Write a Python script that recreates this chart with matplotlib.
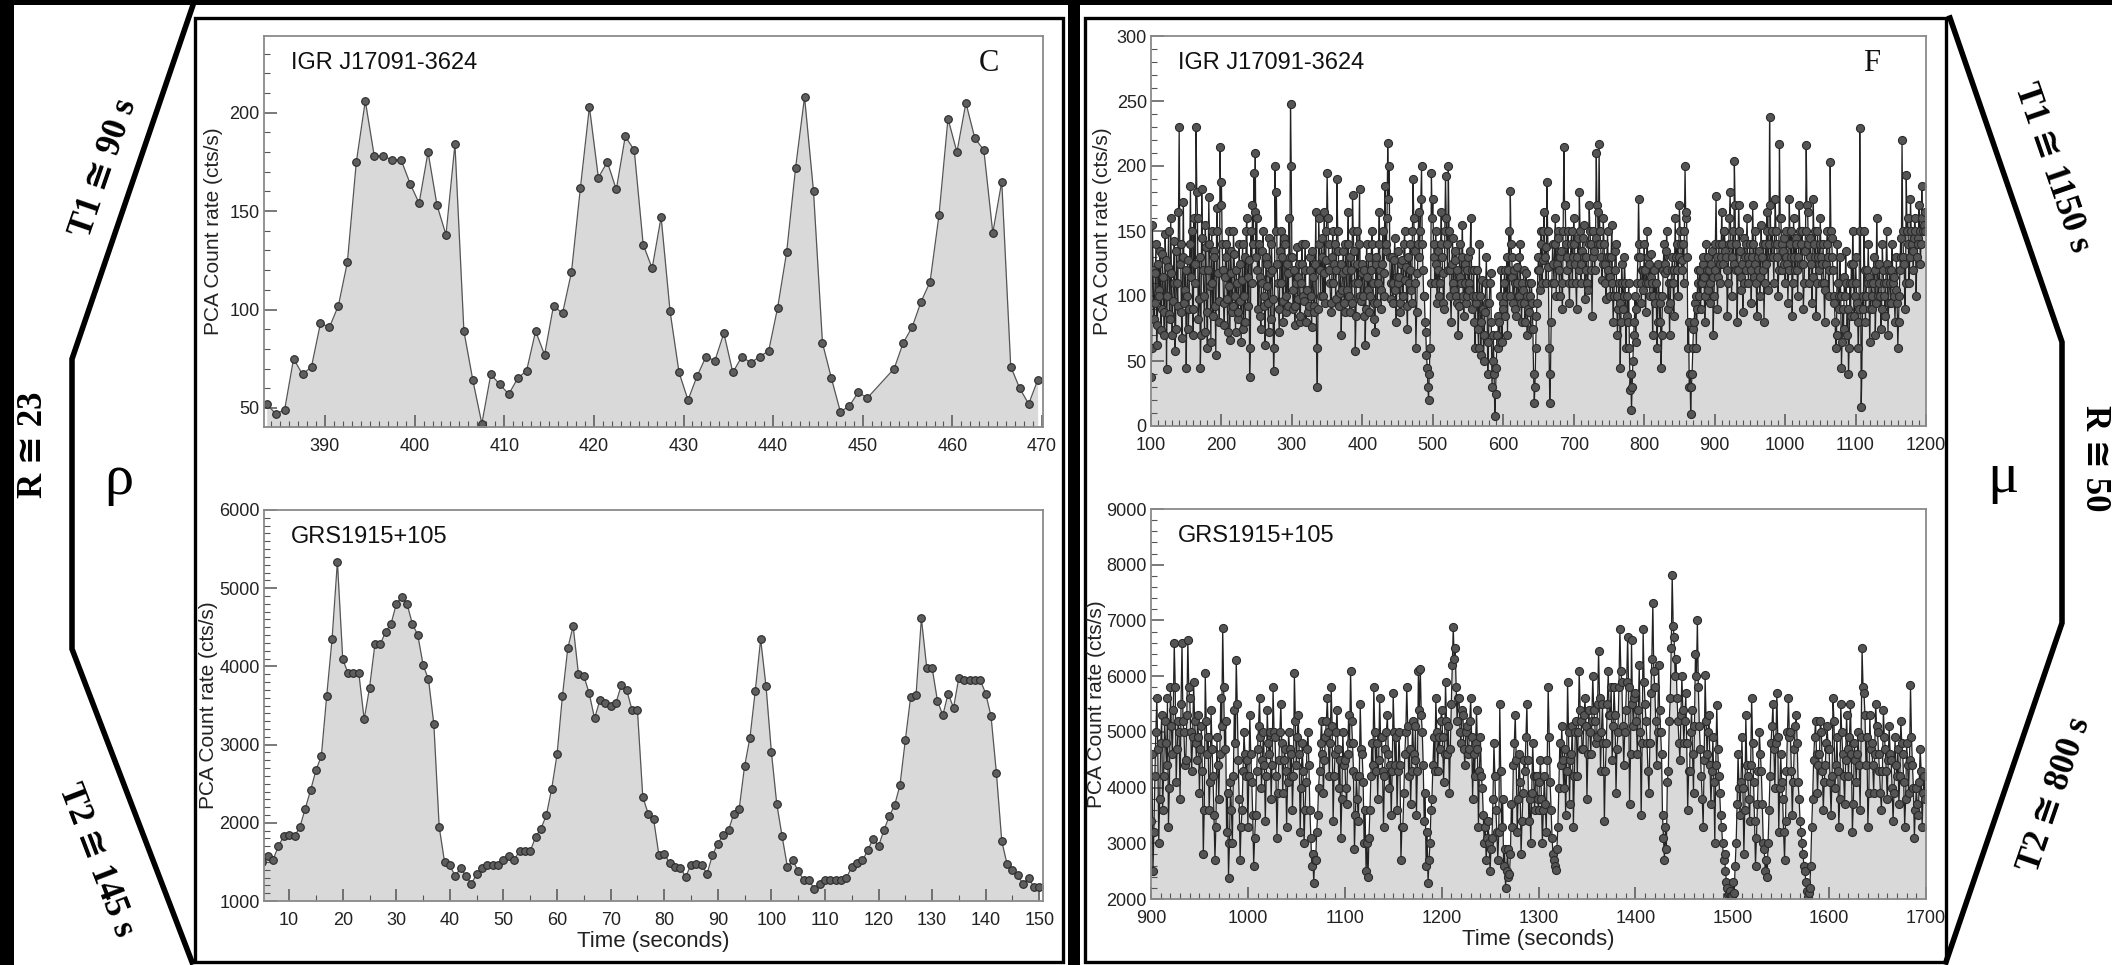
import numpy as np
import matplotlib.pyplot as plt
from matplotlib.ticker import MultipleLocator

W, H = 2112, 965

# ---- rho class (panel C) ----
t_igr_c = np.r_[np.arange(383.5, 451), np.arange(453.5, 470)]
igr_c = [52, 47, 49, 75, 67, 71, 93, 91, 102, 124,
         175, 206, 178, 178, 176, 176, 164, 154, 180, 153,
         138, 184, 89, 64, 42, 67, 62, 57, 65, 69,
         89, 77, 102, 98, 119, 162, 203, 167, 175, 161,
         188, 181, 133, 121, 147, 99, 68, 54, 66, 76,
         74, 88, 68, 76, 73, 76, 79, 101, 129, 172,
         208, 160, 83, 65, 48, 51, 58, 55,
         70, 83, 91, 104, 114, 148, 197, 180, 205, 187,
         181, 139, 165, 71, 60, 52, 64]

t_grs_c = np.arange(5, 151)
grs_c = [1499, 1572, 1529, 1704, 1828, 1841, 1828, 1947, 2182, 2417,
         2673, 2852, 3620, 4346, 5340, 4090, 3911, 3911, 3911, 3322,
         3727, 4282, 4282, 4444, 4542, 4798, 4892, 4798, 4542, 4402,
         4017, 3834, 3262, 1947, 1499, 1457, 1316, 1427, 1316, 1222,
         1341, 1423, 1465, 1465, 1465, 1521, 1572, 1529, 1640, 1640,
         1640, 1819, 1926, 2097, 2438, 2874, 3620, 4231, 4517, 3898,
         3877, 3655, 3335, 3569, 3527, 3497, 3535, 3761, 3697, 3441,
         3441, 2332, 2118, 2054, 1593, 1606, 1487, 1435, 1427, 1307,
         1465, 1478, 1457, 1350, 1585, 1734, 1841, 1905, 2118, 2182,
         2724, 3087, 3689, 4346,
         3747, 2907, 2246, 1828, 1435, 1520, 1384, 1273, 1264, 1158,
         1213, 1264, 1264, 1264, 1264, 1294, 1435, 1486, 1520, 1648,
         1798, 1700, 1904, 2084, 2224, 2480, 3056, 3611, 3632, 4613,
         3982, 3982, 3560, 3376, 3653, 3470, 3858, 3824, 3824, 3824,
         3824, 3653, 3363, 2638, 1768, 1469, 1401, 1328, 1213, 1299,
         1179, 1179]

# ---- mu class (panel F), 1 s bins: even and odd seconds ----
igr_f_even = [  # t = 100, 102, ... 1198
    38, 155, 82, 118, 62, 125, 100, 74, 132, 88, 148, 44, 122, 86, 160, 70, 110, 58, 135, 92, 230, 140, 68, 172, 105,
    45, 128, 90, 185, 150, 70, 110, 230, 160, 98, 45, 182, 120, 72, 138, 60, 176, 108, 150, 85, 130, 55, 168, 96, 215,
    188, 120, 78, 140, 98, 150, 66, 118, 92, 132, 72, 110, 88, 125, 65, 140, 100, 80, 160, 115, 38, 150, 170, 195, 210,
    160, 90, 115, 75, 135, 100, 62, 125, 95, 145, 82, 120, 42, 200, 180, 110, 72, 150, 130, 96, 140, 88, 118, 160, 248,
    130, 90, 78, 110, 98, 125, 85, 140, 100, 120, 80, 105, 92, 130, 76, 115, 88, 165, 30, 160, 120, 145, 100, 165, 128,
    195, 140, 110, 88, 150, 125, 98, 190, 135, 102, 70, 118, 95, 140, 105, 165, 88, 120, 178, 135, 58, 150, 110, 182, 96,
    125, 85, 62, 140, 105, 88, 120, 150, 95, 72, 130, 110, 165, 90, 125, 100, 185, 140, 218, 200, 98, 130, 110, 145, 80,
    135, 115, 88, 128, 100, 150, 122, 75, 110, 140, 95, 190, 135, 60, 118, 165, 150, 200, 120, 100, 72, 45, 20, 60, 195,
    175, 130, 150, 95, 135, 110, 165, 118, 90, 192, 140, 200, 120, 80, 145, 105, 128, 95, 70, 140, 110, 155, 85, 125, 100,
    130, 105, 160, 90, 120, 60, 100, 75, 140, 55, 112, 50, 88, 130, 40, 95, 118, 30, 70, 8, 45, 60, 80, 100, 65,
    90, 120, 100, 70, 150, 181, 130, 95, 110, 85, 122, 100, 140, 80, 105, 95, 118, 70, 88, 100, 110, 75, 18, 60, 95,
    130, 105, 150, 128, 165, 138, 188, 122, 18, 80, 140, 110, 160, 125, 145, 100, 135, 90, 215, 170, 120, 150, 95, 140, 110,
    160, 125, 90, 145, 180, 110, 135, 155, 98, 130, 105, 170, 140, 85, 150, 120, 210, 165, 217, 140, 112, 160, 125, 98, 150,
    130, 100, 155, 80, 120, 140, 70, 110, 45, 125, 90, 130, 60, 100, 110, 28, 12, 50, 80, 65, 110, 175, 130, 95, 120,
    140, 88, 150, 110, 100, 132, 70, 120, 95, 60, 125, 80, 45, 100, 140, 118, 150, 90, 70, 110, 130, 85, 160, 120, 100,
    170, 140, 128, 110, 200, 165, 60, 30, 9, 40, 75, 95, 60, 120, 100, 90, 110, 130, 80, 140, 105, 120, 95, 135, 70,
    120, 177, 90, 140, 110, 165, 125, 150, 130, 85, 140, 180, 100, 150, 204, 120, 80, 170, 135, 105, 88, 145, 120, 160, 110,
    140, 95, 170, 115, 150, 85, 130, 100, 155, 120, 80, 140, 165, 105, 238, 130, 150, 110, 175, 140, 100, 217, 160, 120, 145,
    110, 150, 95, 175, 130, 85, 160, 120, 140, 100, 170, 125, 150, 90, 135, 216, 165, 110, 145, 95, 175, 130, 85, 150, 120,
    160, 110, 140, 80, 125, 150, 100, 203, 145, 120, 95, 60, 140, 100, 130, 45, 90, 115, 135, 70, 40, 110, 125, 150, 85,
    130, 95, 60, 229, 15, 100, 150, 80, 120, 140, 65, 110, 90, 130, 70, 160, 100, 125, 75, 140, 110, 85, 150, 70, 120,
    95, 140, 115, 80, 130, 60, 100, 145, 220, 130, 90, 193, 160, 110, 175, 140, 120, 160, 100, 145, 170, 125, 185, 150, 165]
igr_f_odd = [  # t = 101, 103, ... 1199
    60, 120, 95, 140, 78, 105, 135, 90, 115, 70, 128, 100, 150, 82, 118, 96, 142, 75, 110, 165, 125, 88, 130, 95, 120,
    100, 75, 140, 115, 90, 160, 125, 180, 82, 130, 70, 145, 100, 155, 88, 120, 140, 65, 110, 135, 92, 150, 118, 80, 170,
    140, 95, 115, 130, 72, 108, 135, 88, 150, 100, 120, 82, 140, 96, 112, 75, 130, 150, 92, 128, 60, 110, 140, 165, 130,
    120, 140, 85, 110, 150, 92, 130, 108, 72, 118, 140, 98, 60, 150, 125, 90, 135, 110, 80, 145, 100, 125, 92, 130, 200,
    105, 120, 92, 138, 115, 80, 110, 125, 96, 140, 105, 88, 120, 100, 135, 92, 125, 60, 90, 140, 100, 130, 118, 95, 150,
    160, 120, 95, 130, 110, 140, 120, 150, 92, 125, 105, 135, 88, 120, 140, 100, 130, 95, 150, 110, 85, 125, 140, 100, 118,
    100, 120, 90, 115, 130, 100, 140, 110, 82, 125, 95, 140, 120, 105, 150, 118, 135, 160, 175, 130, 110, 95, 128, 105, 115,
    110, 95, 125, 100, 140, 112, 92, 130, 120, 105, 150, 160, 110, 88, 140, 130, 175, 140, 100, 80, 55, 30, 40, 110, 160,
    140, 110, 125, 120, 100, 140, 130, 95, 150, 160, 120, 150, 100, 125, 110, 135, 100, 120, 92, 115, 130, 100, 110, 95, 120,
    110, 135, 120, 100, 80, 95, 120, 60, 100, 80, 90, 70, 110, 95, 65, 110, 80, 50, 40, 25, 70, 85, 65, 120, 95,
    110, 85, 130, 120, 100, 140, 115, 120, 90, 110, 100, 130, 95, 110, 120, 80, 100, 90, 110, 75, 95, 40, 30, 85, 120,
    120, 140, 110, 150, 130, 110, 150, 60, 40, 110, 125, 140, 100, 150, 120, 130, 110, 150, 170, 140, 130, 110, 125, 150, 130,
    140, 110, 130, 120, 150, 125, 145, 130, 120, 110, 140, 150, 120, 130, 135, 145, 170, 140, 150, 130, 125, 140, 110, 130, 120,
    115, 130, 110, 100, 135, 100, 90, 95, 80, 110, 100, 110, 85, 80, 60, 40, 30, 70, 100, 90, 130, 140, 110, 120, 105,
    120, 110, 130, 125, 115, 110, 100, 95, 110, 80, 100, 95, 70, 120, 125, 135, 120, 110, 95, 120, 110, 120, 130, 140, 130,
    150, 120, 140, 150, 160, 130, 80, 40, 30, 60, 80, 100, 90, 110, 120, 110, 125, 115, 100, 120, 130, 110, 125, 115, 100,
    140, 130, 115, 125, 130, 140, 150, 135, 120, 110, 160, 140, 130, 125, 170, 140, 120, 150, 115, 125, 110, 130, 140, 130, 125,
    120, 130, 140, 125, 110, 120, 135, 115, 130, 140, 110, 125, 150, 140, 170, 150, 130, 140, 150, 130, 120, 160, 140, 135, 125,
    130, 125, 120, 140, 150, 110, 130, 145, 120, 130, 150, 140, 125, 110, 150, 170, 140, 130, 125, 115, 140, 150, 110, 130, 140,
    130, 125, 110, 105, 140, 130, 120, 150, 130, 100, 80, 70, 110, 90, 100, 65, 75, 100, 110, 90, 60, 85, 110, 125, 100,
    110, 80, 90, 150, 40, 90, 120, 100, 110, 115, 90, 100, 110, 120, 95, 125, 110, 100, 90, 120, 100, 110, 125, 95, 110,
    120, 110, 100, 105, 95, 80, 120, 130, 150, 125, 110, 150, 140, 130, 150, 135, 145, 150, 130, 140, 150, 140, 160, 155, 150]

grs_f_even = [  # t = 900, 902, ... 1698
    3400, 2500, 4200, 5600, 3000, 4800, 3600, 5200, 4400, 3300, 5800, 4600, 6600, 4100, 5200, 3800, 6600, 5000, 4500, 6650, 5600, 4300, 5900, 4800, 5300,
    3900, 5100, 2800, 6050, 4600, 3600, 5400, 4200, 2700, 4900, 3800, 5600, 6865, 4700, 3200, 2380, 4100, 3000, 5400, 6290, 4500, 2700, 3600, 5000, 4200,
    3300, 5300, 4100, 2600, 3500, 4700, 5600, 4000, 5000, 3400, 5400, 4600, 3800, 5800, 4900, 3100, 4500, 5500, 3900, 4700, 3300, 5000, 4200, 3600, 6050,
    4400, 5300, 3200, 4800, 3000, 4100, 5000, 3600, 2600, 2290, 2700, 3500, 4300, 5200, 3900, 4900, 5600, 4200, 5800, 3400, 4600, 5400, 4000, 3100, 5000,
    4500, 3700, 5300, 6100, 4800, 2900, 4200, 3400, 5500, 4600, 3000, 2500, 2400, 3600, 4800, 5800, 4300, 3800, 5600, 4900, 3300, 4700, 5300, 4000, 3500,
    5700, 4400, 3600, 5000, 2700, 3300, 4600, 5800, 4200, 3700, 5200, 4500, 3500, 6100, 6120, 5000, 3400, 2600, 2290, 3000, 3800, 4900, 5600, 4300, 4700,
    5400, 4100, 5900, 4600, 3900, 5500, 6880, 6500, 5200, 5600, 4800, 5300, 4400, 5100, 4700, 5600, 3800, 4200, 5400, 3300, 4900, 4000, 3000, 2700, 3400,
    2500, 3100, 4800, 3600, 2700, 5500, 3300, 2600, 2200, 2900, 2450, 3700, 4400, 5300, 3200, 4600, 2800, 3900, 4300, 5500, 3400, 3000, 4800, 3600, 4200,
    3600, 4500, 3000, 4200, 3200, 5800, 4100, 3100, 2700, 2520, 3300, 4800, 5100, 4000, 3500, 5900, 3700, 4600, 3300, 5000, 4200, 6100, 5200, 4700, 5600,
    3800, 5400, 4600, 6000, 5200, 4900, 6450, 4300, 5500, 3400, 4800, 6100, 5300, 4500, 5800, 3900, 5000, 6850, 5900, 4400, 5400, 6700, 3700, 6640, 5100,
    5700, 4600, 6200, 3500, 6850, 5500, 4800, 3900, 5700, 7314, 5800, 4400, 6200, 5000, 3500, 2700, 2900, 4300, 5600, 7816, 6700, 6300, 5200, 4500, 6000,
    4800, 5700, 3600, 4300, 5400, 3900, 6400, 7000, 5100, 4200, 3300, 6020, 4600, 5300, 3700, 4900, 3000, 5480, 4200, 3500, 3000, 2800, 2300, 2070, 2150,
    2050, 2100, 3000, 4600, 3500, 4900, 2800, 5300, 4200, 3400, 5600, 4100, 2600, 3700, 5000, 4300, 3000, 2500, 2400, 3600, 4800, 5500, 4000, 5700, 3200,
    4600, 3800, 2700, 4300, 5600, 5000, 3500, 4700, 5300, 4100, 3400, 3000, 2600, 2300, 2040, 2200, 3300, 4500, 5200, 3900, 4600, 5000, 3600, 4400, 5100,
    4700, 3500, 5600, 4000, 4900, 3300, 5500, 4600, 3700, 5300, 4200, 5500, 3200, 4800, 4100, 5000, 3600, 6500, 5700, 4400, 3300, 5300, 4800, 3900, 5500,
    5000, 4300, 3600, 5400, 4700, 3800, 5100, 4500, 3400, 4900, 4200, 3700, 5200, 4600, 3300, 4800, 3900, 5840, 4400, 3100, 4000, 3500, 4700, 3300, 4200]
grs_f_odd = [  # t = 901, 903, ... 1699
    4600, 3200, 5000, 4700, 3800, 5300, 4200, 4800, 5600, 4000, 5100, 5400, 5800, 4700, 5000, 5500, 5200, 4400, 5300, 5800, 5000, 4900, 5200, 4500, 4900,
    4700, 4300, 3600, 5200, 4900, 4100, 4700, 3500, 3300, 4400, 4600, 5100, 5800, 5200, 3900, 3000, 3600, 4200, 4800, 5500, 3800, 3300, 4300, 4600, 4500,
    4200, 4600, 3500, 3100, 4300, 5100, 4900, 4500, 4400, 4200, 4800, 5000, 4400, 5000, 4200, 3900, 5000, 4800, 4500, 4300, 4100, 4700, 4600, 4200, 5200,
    4900, 4600, 4000, 4300, 3600, 4700, 4400, 3100, 2800, 2700, 3200, 4000, 4800, 4600, 4500, 5200, 5000, 4800, 5100, 4200, 5000, 4700, 4500, 3800, 4400,
    4000, 4600, 4800, 5200, 4300, 3500, 3800, 4200, 4700, 4100, 3600, 3000, 3100, 4200, 4400, 5000, 4800, 4500, 4900, 4300, 4200, 5000, 4600, 4400, 4300,
    5000, 4900, 4300, 4400, 3300, 3900, 5000, 5100, 4700, 4300, 4600, 5100, 4300, 5400, 5300, 4400, 3900, 3200, 2700, 3600, 4400, 4300, 5000, 4900, 5200,
    4900, 4600, 5200, 5100, 4700, 6200, 6300, 5800, 5600, 5000, 5400, 4700, 5000, 4600, 5200, 4900, 4600, 4800, 4700, 4300, 4200, 3500, 3300, 3100, 3000,
    2900, 3800, 4200, 3200, 3200, 4300, 3800, 2900, 2500, 2400, 2800, 3300, 4800, 4500, 3800, 4100, 3400, 4500, 4900, 4500, 3800, 3900, 4200, 4200, 3800,
    4100, 3800, 3600, 3700, 4500, 4900, 3600, 2800, 2600, 2900, 4000, 4400, 4500, 4700, 4300, 5000, 4500, 5100, 4200, 5200, 5000, 5400, 4700, 5300, 5100,
    4600, 5000, 5200, 5400, 4800, 5500, 5600, 5000, 4800, 4300, 5500, 5300, 5800, 5100, 5300, 4700, 5800, 6100, 5100, 5000, 5900, 5800, 4600, 5500, 5600,
    5200, 5400, 5000, 4800, 5900, 5200, 4300, 4800, 6300, 6100, 5200, 5000, 5400, 4600, 3100, 3300, 4100, 5200, 6500, 6900, 6000, 5600, 4800, 5300, 5400,
    5200, 4800, 4300, 5000, 4600, 5100, 6000, 5800, 4700, 3800, 4500, 5200, 5000, 4400, 4300, 4100, 4400, 4700, 3900, 3300, 2700, 2500, 2200, 2100, 2050,
    2300, 2600, 3700, 4000, 4100, 4000, 3600, 4400, 3800, 4400, 4800, 3400, 3100, 4300, 4600, 3700, 2900, 2700, 3000, 4200, 5100, 4700, 4800, 4900, 4000,
    4100, 3200, 3400, 5000, 4900, 4300, 4100, 5100, 4800, 3800, 3200, 2800, 2500, 2150, 2100, 2600, 3800, 4900, 4600, 4400, 5200, 4300, 4100, 4800, 4700,
    4100, 4200, 5200, 4400, 4300, 3800, 5000, 4200, 4500, 4700, 4900, 4600, 3700, 4500, 4600, 4400, 4900, 5800, 5300, 4900, 3900, 4700, 4400, 4600, 5100,
    4600, 3900, 4300, 4900, 4300, 4500, 4600, 4000, 3900, 4400, 4700, 4200, 4800, 4100, 3800, 4400, 4500, 4900, 4000, 3600, 3700, 4100, 4300, 3900, 3800]

t_igr_f = np.arange(100, 1200)
igr_f = np.column_stack((igr_f_even, igr_f_odd)).ravel()
t_grs_f = np.arange(900, 1700)
grs_f = np.column_stack((grs_f_even, grs_f_odd)).ravel()

SANS = ['Liberation Sans', 'DejaVu Sans']
SERIF = ['Liberation Serif', 'DejaVu Serif', 'DejaVu Sans']

fig = plt.figure(figsize=(W / 100, H / 100), dpi=100, facecolor='black')

# background drawing in pixel coordinates
bg = fig.add_axes([0, 0, 1, 1])
bg.set_xlim(0, W)
bg.set_ylim(H, 0)
bg.axis('off')
bg.add_patch(plt.Rectangle((14, 5), 1054, 960, color='white', lw=0))
bg.add_patch(plt.Rectangle((1080, 5), 1032, 960, color='white', lw=0))
bg.add_patch(plt.Rectangle((195, 18), 868, 944, fill=False, ec='black', lw=2.4))
bg.add_patch(plt.Rectangle((1085, 18), 861, 944, fill=False, ec='black', lw=2.4))
bg.plot([193, 72, 72, 192], [5, 359, 649, 962], color='black', lw=4, solid_joinstyle='miter')
bg.plot([1950, 2062, 2062, 1946], [18, 342, 623, 962], color='black', lw=4, solid_joinstyle='miter')

side = dict(family=SERIF, weight='bold', fontsize=25, ha='center', va='center', color='black')
bg.text(104, 168, 'T1 \u2245 90 s', rotation=71, **side)
bg.text(33, 445, 'R \u2245 23', rotation=90, **side)
bg.text(119, 480, '\u03c1', family=SERIF, fontsize=42, ha='center', va='center')
bg.text(96, 860, 'T2 \u2245 145 s', rotation=-69, **side)
bg.text(2052, 168, 'T1 \u2245 1150 s', rotation=-71, **side)
bg.text(2094, 458, 'R \u2245 50', rotation=-90, **side)
bg.text(2003, 478, '\u03bc', family=SERIF, fontsize=42, ha='center', va='center')
bg.text(2055, 795, 'T2 \u2245 800 s', rotation=71, **side)


def panel(box, t, y, xlim, ylim, xmaj, xmin, ymaj, ymin, name, letter=None,
          xlabel=False, lab_x=-0.052, ms=5.5, lc='#555555', lw=0.9, mfc='#5e5e5e'):
    x0, y0, x1, y1 = box
    ax = fig.add_axes([x0 / W, 1 - y1 / H, (x1 - x0) / W, (y1 - y0) / H])
    ax.fill_between(t, y, ylim[0], color='#d9d9d9', lw=0)
    ax.plot(t, y, color=lc, lw=lw, marker='o', ms=ms,
            mfc=mfc, mec='#2a2a2a', mew=0.8)
    ax.set_xlim(*xlim)
    ax.set_ylim(*ylim)
    ax.xaxis.set_major_locator(MultipleLocator(xmaj))
    ax.xaxis.set_minor_locator(MultipleLocator(xmin))
    ax.yaxis.set_major_locator(MultipleLocator(ymaj))
    ax.yaxis.set_minor_locator(MultipleLocator(ymin))
    ax.tick_params(which='both', direction='in', top=False, right=False, color='#555555')
    ax.tick_params(which='major', length=9, width=1.1, pad=3, labelsize=13)
    ax.tick_params(axis='x', which='major', pad=8)
    ax.tick_params(which='minor', length=4, width=0.8)
    for lab in ax.get_xticklabels() + ax.get_yticklabels():
        lab.set_family(SANS)
        lab.set_color('#222222')
    for s in ax.spines.values():
        s.set_color('#8a8a8a')
        s.set_linewidth(1.3)
    ax.set_ylabel('PCA Count rate (cts/s)', family=SANS, fontsize=15, color='#222222')
    ax.yaxis.set_label_coords(lab_x, 0.5)
    if xlabel:
        ax.set_xlabel('Time (seconds)', family=SANS, fontsize=16, color='#222222', labelpad=1)
    ax.text(0.035, 0.93, name, transform=ax.transAxes, family=SANS, fontsize=17,
            ha='left', va='center', color='#111111')
    if letter:
        ax.text(0.93, 0.93, letter, transform=ax.transAxes, family=SERIF, fontsize=22,
                ha='center', va='center', color='#111111')
    return ax


panel((264, 36, 1043, 427), t_igr_c, igr_c, (383.2, 470.1), (40.3, 239), 10, 1, 50, 10,
      'IGR J17091-3624', letter='C')
panel((264, 510, 1043, 901), t_grs_c, grs_c, (5.3, 150.7), (1000, 6000), 10, 5, 1000, 100,
      'GRS1915+105', xlabel=True, lab_x=-0.059)
panel((1151, 36, 1926, 426), t_igr_f, igr_f, (100, 1200), (0, 300), 100, 10, 50, 10,
      'IGR J17091-3624', letter='F', lab_x=-0.050, ms=5.8, lc='#222222', lw=0.9, mfc='#555555')
panel((1151, 509, 1926, 899), t_grs_f, grs_f, (900, 1700), (2000, 9000), 100, 10, 1000, 200,
      'GRS1915+105', xlabel=True, lab_x=-0.058, ms=5.8, lc='#222222', lw=0.9, mfc='#555555')

fig.savefig('out.png', dpi=100, facecolor=fig.get_facecolor())
